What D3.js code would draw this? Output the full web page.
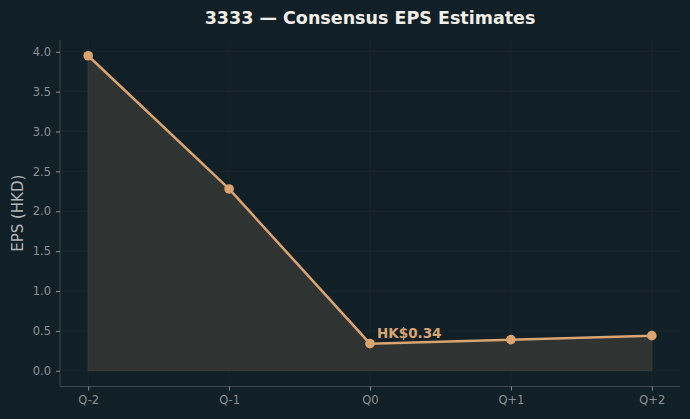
<!DOCTYPE html>
<html>
<head>
<meta charset="utf-8">
<script src="https://cdn.jsdelivr.net/npm/d3@7"></script>
<style>
  html, body { margin: 0; padding: 0; background: #111f26; }
  svg { display: block; font-family: "DejaVu Sans", sans-serif; }
</style>
</head>
<body>
<svg width="690" height="419"></svg>
<script>
// chart data
const quarters = ["Q-2", "Q-1", "Q0", "Q+1", "Q+2"];
const epsValues = [3.95, 2.28, 0.34, 0.39, 0.44];
const yTicks = [0.0, 0.5, 1.0, 1.5, 2.0, 2.5, 3.0, 3.5, 4.0];
const titleText = "3333 — Consensus EPS Estimates";
const yLabel = "EPS (HKD)";
const noteIndex = 2;
const noteText = "HK$0.34";

let svg = d3.select('svg');
let width = +svg.attr('width');
let height = +svg.attr('height');
const margin = { left: 60, right: 10, top: 40, bottom: 32.5 };
const accent = "#d9a470";

svg.append("rect").attr("width", width).attr("height", height).attr("fill", "#111f26");

const x = d3.scaleLinear()
  .domain([-0.2, quarters.length - 1 + 0.2])
  .range([margin.left, width - margin.right]);
const y = d3.scaleLinear()
  .domain([-0.1975, 4.1475])
  .range([height - margin.bottom, margin.top]);

// grid
svg.append("g")
  .selectAll("line.gy")
  .data(yTicks)
  .join("line")
  .attr("x1", margin.left).attr("x2", width - margin.right)
  .attr("y1", d => y(d)).attr("y2", d => y(d))
  .attr("stroke", "#1b272c").attr("stroke-width", 0.8);
svg.append("g")
  .selectAll("line.gx")
  .data(quarters)
  .join("line")
  .attr("y1", margin.top).attr("y2", height - margin.bottom)
  .attr("x1", (d, i) => x(i)).attr("x2", (d, i) => x(i))
  .attr("stroke", "#1b272c").attr("stroke-width", 0.8);

// area
const area = d3.area()
  .x((d, i) => x(i))
  .y0(y(0))
  .y1(d => y(d));
svg.append("path")
  .datum(epsValues)
  .attr("d", area)
  .attr("fill", "#2f3331")
  .attr("stroke", "#3b3d38")
  .attr("stroke-width", 1);

// line
const line = d3.line().x((d, i) => x(i)).y(d => y(d));
svg.append("path")
  .datum(epsValues)
  .attr("d", line)
  .attr("fill", "none")
  .attr("stroke", accent)
  .attr("stroke-width", 2.5);

svg.append("g")
  .selectAll("circle")
  .data(epsValues)
  .join("circle")
  .attr("cx", (d, i) => x(i))
  .attr("cy", d => y(d))
  .attr("r", 4.8)
  .attr("fill", accent);

// axes
const yAxis = d3.axisLeft(y).tickValues(yTicks).tickFormat(d3.format(".1f")).tickSize(4).tickPadding(5);
const xAxis = d3.axisBottom(x).tickValues(d3.range(quarters.length)).tickFormat(i => quarters[i]).tickSize(4).tickPadding(5);

const gy = svg.append("g").attr("transform", `translate(${margin.left},0)`).call(yAxis);
const gx = svg.append("g").attr("transform", `translate(0,${height - margin.bottom})`).call(xAxis);
[gx, gy].forEach(g => {
  g.select(".domain").attr("stroke", "#3e4649");
  g.selectAll(".tick line").attr("stroke", "#8a9094");
  g.selectAll(".tick text").attr("fill", "#8a9094").attr("font-size", 11.5).attr("font-family", "DejaVu Sans");
});
gx.select(".domain").attr("d", `M${margin.left},0H${width - margin.right}`);
gy.select(".domain").attr("d", `M0,${margin.top}V${height - margin.bottom}`);

// labels
svg.append("text")
  .attr("x", 370).attr("y", 24)
  .attr("text-anchor", "middle")
  .attr("fill", "#f2efe9")
  .attr("font-size", 17.5).attr("font-weight", "bold")
  .text(titleText);

svg.append("text")
  .attr("transform", `translate(23,${(margin.top + height - margin.bottom) / 2}) rotate(-90)`)
  .attr("text-anchor", "middle")
  .attr("fill", "#b0b4b6")
  .attr("font-size", 15)
  .text(yLabel);

svg.append("text")
  .attr("x", x(noteIndex) + 7)
  .attr("y", y(epsValues[noteIndex]) - 6)
  .attr("fill", accent)
  .attr("font-size", 13.5).attr("font-weight", "bold")
  .text(noteText);
</script>
</body>
</html>
